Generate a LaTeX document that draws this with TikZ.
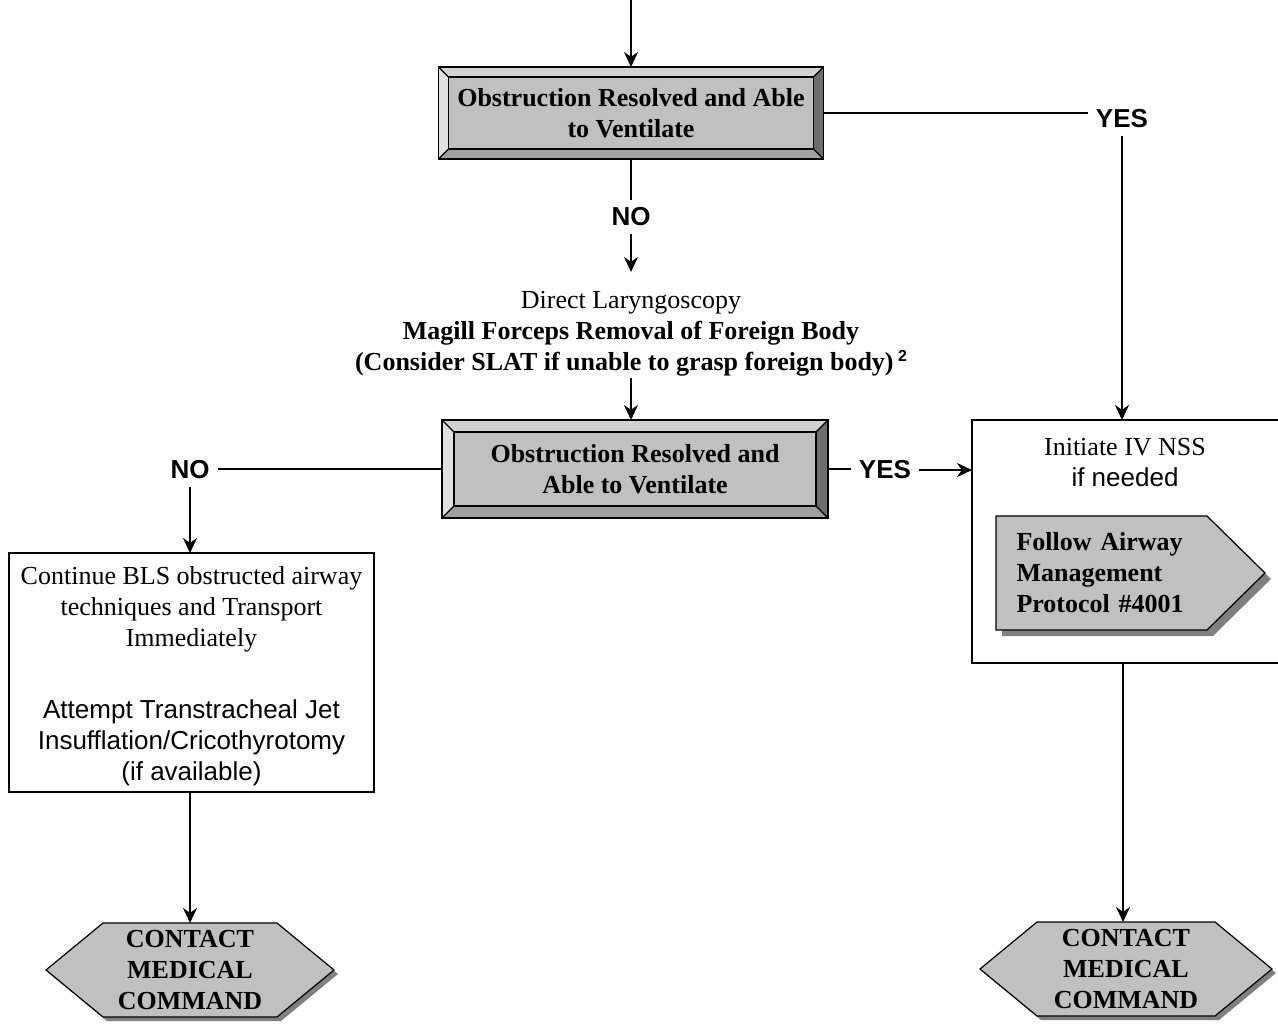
\documentclass[tikz,border=0pt]{standalone}
\usepackage{fontspec}
\setmainfont{Liberation Serif}
\setsansfont{Liberation Sans}
\usepackage{xcolor}
\usepackage{tikz}
\usetikzlibrary{positioning}
\usetikzlibrary{calc}
\usetikzlibrary{shapes.symbols}
\usetikzlibrary{shadows}
\usetikzlibrary{arrows.meta}
\definecolor{boxgray}{HTML}{C0C0C0}
\definecolor{bevtop}{HTML}{D2D2D2}
\definecolor{bevleft}{HTML}{E0E0E0}
\definecolor{bevright}{HTML}{6E6E6E}
\definecolor{bevbottom}{HTML}{A0A0A0}
\definecolor{shadowgray}{HTML}{808080}
\newcommand{\flowsize}{\fontsize{26}{31}\selectfont}
\tikzset{
    bevelbox/.style = {rectangle, draw=black, fill=boxgray, line width=1.6pt, outer sep=0pt, align=center, font=\flowsize\bfseries},
    plainbox/.style = {rectangle, draw=black, line width=1.6pt, outer sep=0pt},
    hexnode/.style = {signal, signal to=west and east, signal pointer angle=79, draw=black, fill=boxgray, line width=1.2pt, outer sep=0pt, align=center, inner ysep=2pt, minimum width=288pt, minimum height=94pt, font=\flowsize\bfseries, drop shadow={shadow xshift=4pt, shadow yshift=-4pt, fill=shadowgray, opacity=1}},
    pentnode/.style = {signal, signal to=east, signal pointer angle=89, draw=black, fill=boxgray, line width=1.2pt, outer sep=0pt, text width=170pt, align=left, minimum width=269pt, minimum height=114pt, font=\flowsize\bfseries, drop shadow={shadow xshift=6pt, shadow yshift=-6pt, fill=shadowgray, opacity=1}},
    lbl/.style = {font=\sffamily\bfseries\flowsize, inner sep=8pt},
    txt/.style = {font=\flowsize, align=center, inner sep=2pt},
    arr/.style = {-{Stealth[length=15pt,width=14pt]}, line width=1.6pt},
    ln/.style = {line width=1.6pt},
}
% bevelled frame round a node: name, bevel width
\newcommand{\bevelframe}[2]{%
  \fill[bevtop] (#1.north west) -- (#1.north east) -- ($(#1.north east)+(-#2,#2)$) -- ($(#1.north west)+(#2,#2)$) -- cycle;
  \fill[bevbottom] (#1.south west) -- (#1.south east) -- ($(#1.south east)+(-#2,-#2)$) -- ($(#1.south west)+(#2,-#2)$) -- cycle;
  \fill[bevleft] (#1.north west) -- (#1.south west) -- ($(#1.south west)+(#2,-#2)$) -- ($(#1.north west)+(#2,#2)$) -- cycle;
  \fill[bevright] (#1.north east) -- (#1.south east) -- ($(#1.south east)+(-#2,-#2)$) -- ($(#1.north east)+(-#2,#2)$) -- cycle;
  \draw[line width=1.2pt] ($(#1.north west)+(#2,#2)$) rectangle ($(#1.south east)+(-#2,-#2)$);
  \draw[line width=1.2pt] (#1.north west) -- ++(#2,#2) (#1.north east) -- ++(-#2,#2) (#1.south west) -- ++(#2,-#2) (#1.south east) -- ++(-#2,-#2);
  \draw[line width=1.6pt] (#1.north west) rectangle (#1.south east);
}

\begin{document}
\begin{tikzpicture}[x=1pt, y=-1pt]
\useasboundingbox (0,0) rectangle (1278,1024);
\clip (0,0) rectangle (1278,1024);
%
\coordinate (top) at (631,0);
\coordinate (ivx) at (1123,0);
\node[bevelbox, minimum width=385pt, minimum height=92pt] at (631,113) (ob1) {Obstruction Resolved and Able\\to Ventilate};
\bevelframe{ob1}{10}
\node[lbl] at (1122,119) (yes1) {YES};
\node[lbl] at (631,217) (no1) {NO};
\node[txt, anchor=north] at (631,272) (dl) {\rule{0pt}{34pt}Direct Laryngoscopy\\
  \textbf{Magill Forceps Removal of Foreign Body}\\
  \textbf{(Consider SLAT if unable to grasp foreign body)}\,\raisebox{9pt}{\sffamily\bfseries\fontsize{16}{16}\selectfont 2}};
\node[bevelbox, minimum width=386pt, minimum height=98pt] at (635,469) (ob2) {Obstruction Resolved and\\Able to Ventilate};
\bevelframe{ob2}{12}
\node[lbl] at (190,470) (no2) {NO};
\node[lbl] at (885,470) (yes2) {YES};
%
\node[plainbox, minimum width=365pt, minimum height=239pt] at (191.5,672.5) (bls) {};
\node[txt] at (191.5,676) (blstxt) {Continue BLS obstructed airway\\techniques and Transport\\Immediately\\[41pt]
  {\sffamily Attempt Transtracheal Jet}\\{\sffamily Insufflation/Cricothyrotomy}\\{\sffamily (if available)}};
\node[plainbox, minimum width=318pt, minimum height=243pt] at (1131,541.5) (ivbox) {};
\node[txt] at (1125,463) (ivtxt) {Initiate IV NSS\\{\sffamily if needed}};
\node[pentnode, anchor=west] at (996,573) (fam) {Follow Airway\\Management\\Protocol \#4001};
%
\node[hexnode] at (190,970) (cmc1) {CONTACT\\MEDICAL\\COMMAND};
\node[hexnode, minimum width=292pt] at (1126,969) (cmc2) {CONTACT\\MEDICAL\\COMMAND};
%
\draw[arr] (top) -- (ob1.north);
\draw[ln] (ob1.east) -- (ob1.east -| yes1.west);
\draw[arr] (yes1.south) -- (yes1.south |- ivbox.north);
\draw[ln] (ob1.south) -- (no1.north);
\draw[arr] (no1.south) -- (dl.north);
\draw[arr] (dl.south) -- (dl.south |- ob2.north);
%
\draw[ln] (ob2.west) -- (ob2.west -| no2.east);
\draw[arr] (no2.south) -- (no2.south |- bls.north);
\draw[ln] (ob2.east) -- (ob2.east -| yes2.west);
\draw[arr] (yes2.east) -- (yes2.east -| ivbox.west);
%
\draw[arr] (no2.south |- bls.south) -- (cmc1.north);
\draw[arr] (ivx |- ivbox.south) -- (ivx |- cmc2.north);
\end{tikzpicture}
\end{document}
